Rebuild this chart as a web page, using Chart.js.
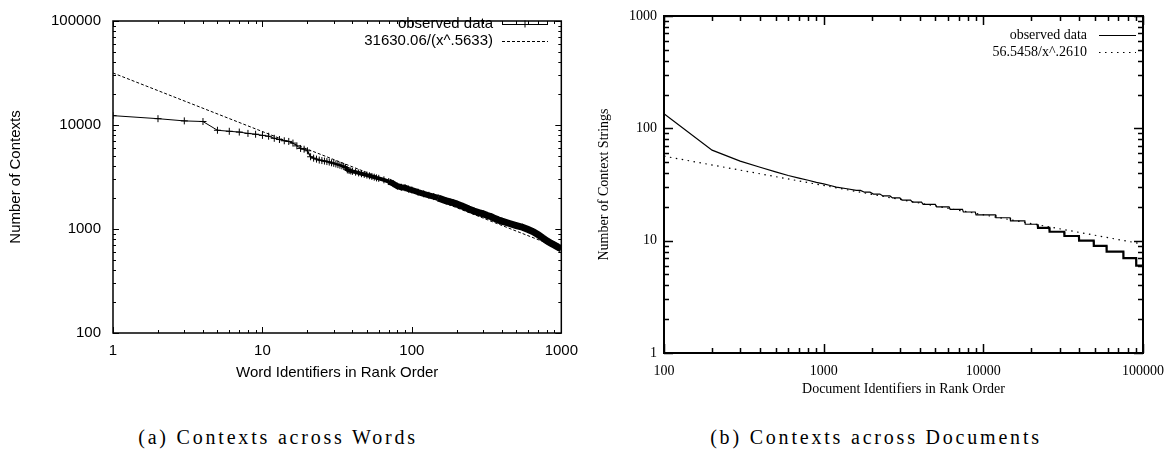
<!DOCTYPE html>
<html><head><meta charset="utf-8">
<script src="https://cdn.jsdelivr.net/npm/chart.js@4.4.1/dist/chart.umd.min.js"></script>
<style>
html,body{margin:0;padding:0;background:#fff;width:1174px;height:465px;overflow:hidden;position:relative}
canvas{position:absolute}
#c1{left:0;top:0}
#c2{left:587px;top:0}
.cap{position:absolute;top:426px;font-family:"Liberation Serif","Times New Roman",serif;font-size:20px;letter-spacing:2.8px;white-space:nowrap;transform:translateX(-50%);color:#000}
</style></head><body>
<canvas id="c1" width="587" height="390"></canvas>
<canvas id="c2" width="587" height="405"></canvas>
<div class="cap" style="left:278px">(a) Contexts across Words</div>
<div class="cap" style="left:876px">(b) Contexts across Documents</div>
<script>
// ---------- data ----------
const wordRanks = [1,2,3,4,5,6,7,8,9,10,11,12,13,14,15,16,17,18,19,20,
  21,22,23,24,25,26,27,28,29,30,31,32,33,34,35,36,37,38,39,40,
  42,44,46,48,50,52,54,56,58,60,65,70,75,80,85,90,95,100,
  110,120,130,140,150,160,170,180,190,200,220,240,260,280,300,320,340,360,380,400,
  450,500,550,600,650,700,750,800,850,900,950,1000];
const wordContexts = [12300,11500,10950,10800,8900,8700,8550,8300,8150,7950,7800,7450,7250,7050,6950,6700,6300,5950,5850,5650,
  4950,4800,4700,4600,4550,4500,4450,4400,4330,4280,4220,4160,4100,4050,3990,3900,3700,3650,3620,3580,
  3520,3460,3400,3350,3300,3250,3200,3150,3100,3070,2970,2860,2730,2580,2520,2490,2420,2370,
  2260,2180,2110,2050,1990,1920,1860,1820,1780,1740,1650,1560,1490,1440,1400,1350,1310,1260,1220,1190,
  1130,1080,1040,990,940,880,820,770,730,700,670,645];
const wordFitRanks = [1, 1000];
const wordFitValues = [31630.06, 646];
const wordXTicks = [1, 10, 100, 1000];
const wordYTicks = [100, 1000, 10000, 100000];
const wordLabels = ['observed data', '31630.06/(x^.5633)'];

const docRanks = [100,200,300,400,500,600,700,800,900,1000,1100,1200,1400,1600,
  1700,1800,1950,2050,2250,2350,2600,2700,3000,3100,3500,3600,4100,4200,5000,5100,6100,6200,
  7400,7500,8900,9000,11900,12000,14700,14800,18200,18300,21900,22000,25900,26000,32100,32200,
  39700,39800,49100,49200,59100,59200,75300,75400,90600,90700,100000];
const docContexts = [135,64,51,45,41,38,36,34.5,33,32,31,30,29,28,
  28,27,27,26,26,25,25,24,24,23,23,22,22,21,21,20,20,19,
  19,18,18,17,17,16,16,15,15,14,14,13,13,12,12,11,
  11,10,10,9,9,8,8,7,7,6,6];
const docFitRanks = [100, 100000];
const docFitValues = [56.55, 9.32];
const docXTicks = [100, 1000, 10000, 100000];
const docYTicks = [1, 10, 100, 1000];
const docLabels = ['observed data', '56.5458/x^.2610'];

// ---------- plugin: gnuplot-like frame, inward ticks, legend ----------
const gnuFrame = {
  id: 'gnuFrame',
  afterDraw(chart, args, o) {
    const {ctx, chartArea: a, scales} = chart;
    const xs = scales.x, ys = scales.y;
    ctx.save();
    ctx.strokeStyle = '#000';
    ctx.lineWidth = o.tickWidth;
    const logTicks = (min, max) => {
      const out = [];
      for (let e = Math.floor(Math.log10(min)); Math.pow(10, e) <= max; e++)
        for (let m = 1; m < 10; m++) {
          const v = m * Math.pow(10, e);
          if (v >= min * 0.999 && v <= max * 1.001) out.push([v, m === 1]);
        }
      return out;
    };
    ctx.beginPath();
    for (const [v, maj] of logTicks(xs.min, xs.max)) {
      const px = Math.round(xs.getPixelForValue(v)) + 0.5;
      const L = maj ? o.major : o.minor;
      ctx.moveTo(px, a.bottom); ctx.lineTo(px, a.bottom - L);
      ctx.moveTo(px, a.top); ctx.lineTo(px, a.top + L);
    }
    for (const [v, maj] of logTicks(ys.min, ys.max)) {
      const py = Math.round(ys.getPixelForValue(v)) + 0.5;
      const L = maj ? o.major : o.minor;
      ctx.moveTo(a.left, py); ctx.lineTo(a.left + L, py);
      ctx.moveTo(a.right, py); ctx.lineTo(a.right - L, py);
    }
    ctx.stroke();
    ctx.lineWidth = o.axisWidth;
    ctx.strokeRect(a.left, a.top, a.right - a.left, a.bottom - a.top);
    // legend
    const lg = o.legend;
    ctx.font = lg.font;
    ctx.fillStyle = '#000';
    ctx.textAlign = 'right';
    ctx.textBaseline = 'middle';
    chart.data.datasets.forEach((ds, i) => {
      const y = lg.rows[i];
      ctx.fillText(ds.label, lg.textRight, y);
      ctx.save();
      ctx.strokeStyle = ds.borderColor;
      ctx.lineWidth = lg.sampleWidth[i];
      ctx.setLineDash(ds.borderDash || []);
      ctx.beginPath();
      ctx.moveTo(lg.sampleLeft, y + 0.5); ctx.lineTo(lg.sampleRight, y + 0.5);
      ctx.stroke();
      ctx.setLineDash([]);
      if (ds.pointStyle === 'cross' && ds.pointRadius > 0) {
        const cx = (lg.sampleLeft + lg.sampleRight) / 2, r = ds.pointRadius;
        ctx.lineWidth = 1;
        ctx.beginPath();
        ctx.moveTo(cx, y - r); ctx.lineTo(cx, y + r);
        ctx.stroke();
      }
      ctx.restore();
    });
    ctx.restore();
  }
};

function logAxis(cfg) {
  return {
    type: 'logarithmic', position: cfg.position, min: cfg.min, max: cfg.max,
    afterBuildTicks: s => { s.ticks = cfg.ticks.map(v => ({value: v})); },
    afterFit: s => { if (cfg.position === 'left') s.width = cfg.size; else s.height = cfg.size; },
    grid: {display: false, drawTicks: false},
    border: {display: false},
    ticks: {autoSkip: false, maxRotation: 0, minRotation: 0, padding: cfg.pad, color: '#000',
      font: cfg.font, callback: v => String(v)},
    title: {display: true, text: cfg.title, color: '#000', font: cfg.font, padding: cfg.titlePad}
  };
}

// ---------- chart (a) ----------
const sansFont = {family: '"Liberation Sans", Arial, sans-serif', size: 15};
new Chart(document.getElementById('c1'), {
  type: 'line',
  data: {
    datasets: [
      {label: wordLabels[0], data: wordRanks.map((r, i) => ({x: r, y: wordContexts[i]})),
        borderColor: '#000', borderWidth: 1, pointStyle: 'cross', pointRadius: 3.5,
        pointBorderColor: '#000', pointBorderWidth: 1, fill: false, tension: 0,
        segment: {borderWidth: c => { const x = c.p0.parsed.x; return x < 20 ? 1 : x < 36 ? 1.5 : x < 70 ? 4 : x < 150 ? 6 : 7; }}},
      {label: wordLabels[1], data: wordFitRanks.map((r, i) => ({x: r, y: wordFitValues[i]})),
        borderColor: '#000', borderWidth: 1, borderDash: [3, 2], pointRadius: 0, fill: false}
    ]
  },
  options: {
    responsive: false, animation: false, devicePixelRatio: 1,
    layout: {padding: {left: 0, right: 21, top: 10, bottom: 0}},
    plugins: {legend: {display: false}, tooltip: {enabled: false},
      gnuFrame: {major: 6, minor: 3, tickWidth: 1, axisWidth: 1.5,
        legend: {font: '15px "Liberation Sans", Arial, sans-serif', textRight: 493, sampleLeft: 502, sampleRight: 548, rows: [24, 41], sampleWidth: [1, 1]}}},
    scales: {
      x: logAxis({position: 'bottom', min: 1, max: 1000, ticks: wordXTicks, size: 57, pad: 9, font: sansFont,
        title: 'Word Identifiers in Rank Order', titlePad: {top: 0, bottom: 8}}),
      y: logAxis({position: 'left', min: 100, max: 100000, ticks: wordYTicks, size: 113, pad: 12, font: sansFont,
        title: 'Number of Contexts', titlePad: {top: 7, bottom: 0}})
    }
  },
  plugins: [gnuFrame]
});

// ---------- chart (b) ----------
const serifFont = {family: '"Liberation Serif", "Times New Roman", serif', size: 14};
new Chart(document.getElementById('c2'), {
  type: 'line',
  data: {
    datasets: [
      {label: docLabels[0], data: docRanks.map((r, i) => ({x: r, y: docContexts[i]})),
        borderColor: '#000', borderWidth: 1.2, pointRadius: 0, fill: false, tension: 0,
        segment: {borderWidth: c => c.p0.parsed.x < 20000 ? 1.2 : 2.2}},
      {label: docLabels[1], data: docFitRanks.map((r, i) => ({x: r, y: docFitValues[i]})),
        borderColor: '#000', borderWidth: 1.2, borderDash: [1.5, 4.5], pointRadius: 0, fill: false}
    ]
  },
  options: {
    responsive: false, animation: false, devicePixelRatio: 1,
    layout: {padding: {left: 0, right: 24, top: 16, bottom: 0}},
    plugins: {legend: {display: false}, tooltip: {enabled: false},
      gnuFrame: {major: 9, minor: 5, tickWidth: 1.5, axisWidth: 2,
        legend: {font: '14px "Liberation Serif", "Times New Roman", serif', textRight: 500, sampleLeft: 512, sampleRight: 549, rows: [35, 52], sampleWidth: [1.2, 1.2]}}},
    scales: {
      x: logAxis({position: 'bottom', min: 100, max: 100000, ticks: docXTicks, size: 52, pad: 10, font: serifFont,
        title: 'Document Identifiers in Rank Order', titlePad: {top: 0, bottom: 7}}),
      y: logAxis({position: 'left', min: 1, max: 1000, ticks: docYTicks, size: 77, pad: 7, font: serifFont,
        title: 'Number of Context Strings', titlePad: {top: 9, bottom: 0}})
    }
  },
  plugins: [gnuFrame]
});
</script>
</body></html>
